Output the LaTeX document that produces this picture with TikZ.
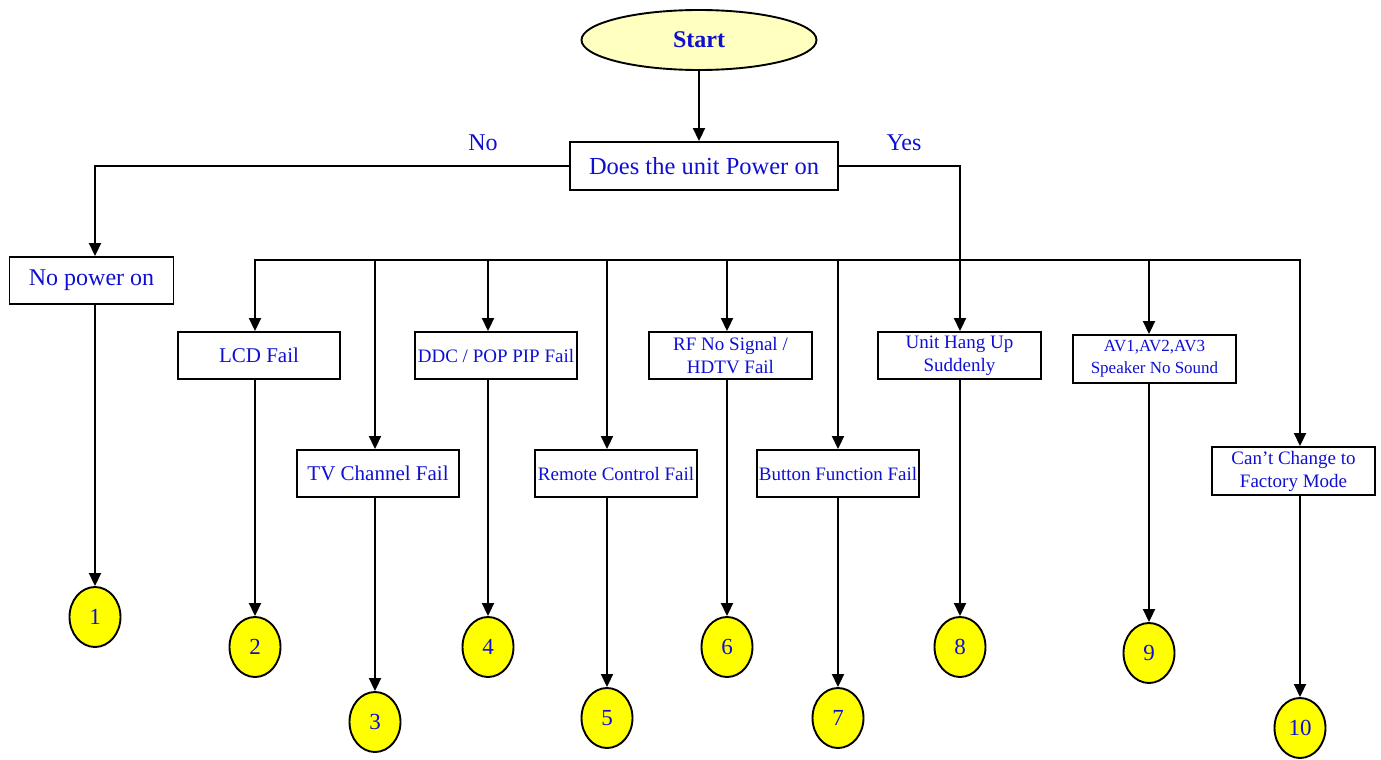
\documentclass[tikz,border=0pt]{standalone}
\usepackage{fontspec}
\setmainfont{Liberation Serif}
\usetikzlibrary{arrows.meta,shapes.geometric}
\definecolor{txt}{RGB}{15,15,210}
\definecolor{startfill}{RGB}{255,255,192}
\definecolor{circfill}{RGB}{255,255,0}
\begin{document}
\begin{tikzpicture}[x=1pt,y=-1pt,
  box/.style={draw, line width=1.9pt, rectangle, text=txt, inner sep=0pt, align=center},
  circ/.style={draw, ellipse, fill=circfill, line width=1.9pt, minimum width=51pt, minimum height=60pt, inner sep=0pt, text=txt, font=\fontsize{23}{23}\selectfont},
  startnode/.style={draw, ellipse, fill=startfill, line width=1.9pt, minimum width=235pt, minimum height=60pt, inner sep=0pt, text=txt, font=\bfseries\fontsize{24}{24}\selectfont},
  lbl/.style={text=txt, inner sep=0pt, font=\fontsize{24}{24}\selectfont},
  conn/.style={line width=1.9pt},
  arr/.style={conn, -{Triangle[length=13pt,width=12pt]}},
  fa/.style={font=\fontsize{21}{25}\selectfont},
  fb/.style={font=\fontsize{19}{23}\selectfont},
  fc/.style={font=\fontsize{17}{22}\selectfont}
]
\useasboundingbox (0,0) rectangle (1381,760);

% main nodes
\node[startnode] (start) at (699,40) {Start};
\node[box, minimum width=268pt, minimum height=48pt, font=\fontsize{24.5}{24}\selectfont] (q) at (704,166) {Does the unit Power on};
\node[lbl] (no) at (483,143) {No};
\node[lbl] (yes) at (904,143) {Yes};

\node[box, minimum width=164pt, minimum height=47pt, font=\fontsize{24}{24}\selectfont] (nopower) at (91.5,280.5) {No power on};
\node[box, fa, minimum width=162pt, minimum height=47pt] (lcd) at (259,355.5) {LCD Fail};
\node[box, fa, minimum width=162pt, minimum height=47pt] (tv) at (378,473.5) {TV Channel Fail};
\node[box, fb, minimum width=162pt, minimum height=47pt] (ddc) at (496,355.5) {DDC / POP PIP Fail};
\node[box, fb, minimum width=162pt, minimum height=47pt] (remote) at (616,473.5) {Remote Control Fail};
\node[box, fb, minimum width=163pt, minimum height=47pt] (rf) at (730.5,355.5) {RF No Signal /\\HDTV Fail};
\node[box, fb, minimum width=162pt, minimum height=47pt] (button) at (838,473.5) {Button Function Fail};
\node[box, fb, minimum width=163pt, minimum height=47pt] (unit) at (959.5,355.5) {Unit Hang Up\\Suddenly};
\node[box, fc, minimum width=163pt, minimum height=48pt] (av) at (1154.5,359) {AV1,AV2,AV3\\Speaker No Sound};
\node[box, fb, minimum width=163pt, minimum height=48pt] (cant) at (1293.5,471) {Can’t Change to\\Factory Mode};

% circles
\node[circ] (c1) at (95,617) {1};
\node[circ] (c2) at (255,647) {2};
\node[circ] (c3) at (375,722) {3};
\node[circ] (c4) at (488,647) {4};
\node[circ] (c5) at (607,718) {5};
\node[circ] (c6) at (727,647) {6};
\node[circ] (c7) at (838,718) {7};
\node[circ] (c8) at (960,647) {8};
\node[circ] (c9) at (1149,653) {9};
\node[circ] (c10) at (1300,728) {10};

% top connectors
\draw[arr] (start.south) -- (start.south |- q.north);
\draw[arr] (q.west) -| (c1 |- nopower.north);
\draw[arr] (q.east) -| (c8 |- unit.north);

% bus
\coordinate (bL) at (255,260);
\coordinate (bR) at (1300,260);
\draw[arr] (bR) -- (bL) -- (bL |- lcd.north);
\draw[arr] (bL) -- (bR) -- (bR |- cant.north);
\draw[arr] (c3 |- bL) -- (c3 |- tv.north);
\draw[arr] (c4 |- bL) -- (c4 |- ddc.north);
\draw[arr] (c5 |- bL) -- (c5 |- remote.north);
\draw[arr] (c6 |- bL) -- (c6 |- rf.north);
\draw[arr] (c7 |- bL) -- (c7 |- button.north);
\draw[arr] (c9 |- bL) -- (c9 |- av.north);

% box to circle
\draw[arr] (c1 |- nopower.south) -- (c1);
\draw[arr] (c2 |- lcd.south) -- (c2);
\draw[arr] (c3 |- tv.south) -- (c3);
\draw[arr] (c4 |- ddc.south) -- (c4);
\draw[arr] (c5 |- remote.south) -- (c5);
\draw[arr] (c6 |- rf.south) -- (c6);
\draw[arr] (c7 |- button.south) -- (c7);
\draw[arr] (c8 |- unit.south) -- (c8);
\draw[arr] (c9 |- av.south) -- (c9);
\draw[arr] (c10 |- cant.south) -- (c10);
\end{tikzpicture}
\end{document}
